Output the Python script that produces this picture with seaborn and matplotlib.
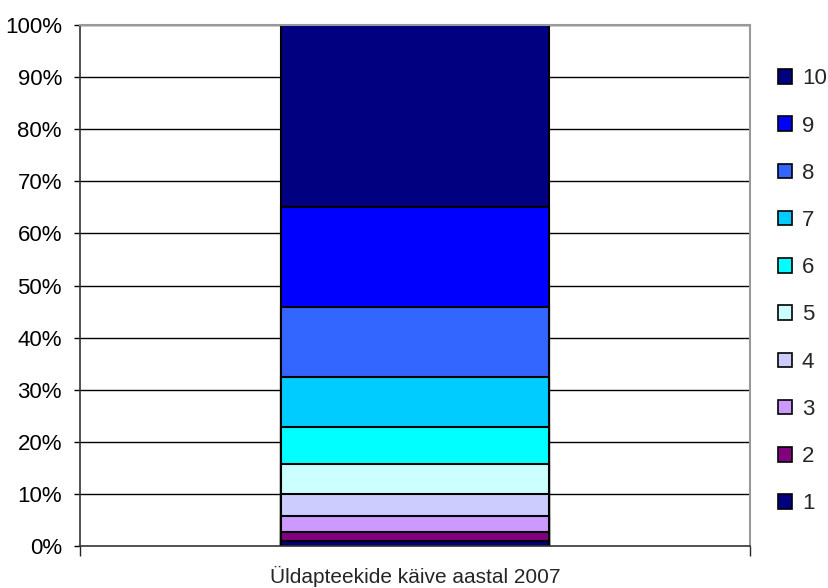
import pandas as pd
import matplotlib
matplotlib.use("Agg")
import matplotlib.pyplot as plt
import seaborn as sns
from matplotlib.patches import Patch
from matplotlib.ticker import PercentFormatter

# osakaalud (%) grupiti 1..10
grupid = ["1", "2", "3", "4", "5", "6", "7", "8", "9", "10"]
osakaalud = [1.0, 1.6, 3.1, 4.2, 5.8, 7.2, 9.6, 13.4, 19.2, 34.9]
varvid = ["#000080", "#800080", "#CC99FF", "#CCCCFF", "#CCFFFF",
          "#00FFFF", "#00CCFF", "#3366FF", "#0000FF", "#000080"]
kategooria = "Üldapteekide käive aastal 2007"

sns.set_theme(style="white")
plt.rcParams["font.family"] = ["Liberation Sans", "DejaVu Sans"]

df = pd.DataFrame({"grupp": grupid, "osakaal": osakaalud, "varv": varvid})
df["kumulatiivne"] = df["osakaal"].cumsum()
df["kumulatiivne"] = df["kumulatiivne"] / df["kumulatiivne"].iloc[-1] * 100
df["kategooria"] = kategooria

fig = plt.figure(figsize=(8.29, 5.88), dpi=100)
ax = fig.add_axes([0.0965, 0.0714, 0.8085, 0.8861])

# gridlines
for g in range(10, 101, 10):
    ax.axhline(g, color="black", linewidth=1, zorder=0)

# virnastatud tulp: suurimast kumulatiivsest väiksemani
for _, rida in df.iloc[::-1].iterrows():
    sns.barplot(data=rida.to_frame().T, x="kategooria", y="kumulatiivne",
                color=rida["varv"], edgecolor="black", linewidth=1.5,
                width=0.4, ax=ax, zorder=2, saturation=1)

ax.set_ylim(0, 100)
ax.set_xlim(-0.5, 0.5)
ax.set_yticks(range(0, 101, 10))
ax.yaxis.set_major_formatter(PercentFormatter(decimals=0))
ax.set_ylabel("")
ax.set_xlabel("")
ax.set_xticks([-0.5, 0.5], minor=False)
ax.set_xticklabels(["", ""])
ax.text(0.0, -0.039, kategooria, transform=ax.get_xaxis_transform(),
        ha="center", va="top", fontsize=15)

ax.tick_params(axis="y", labelsize=16, length=4, width=1, direction="out",
               left=True, pad=9, colors="black")
ax.tick_params(axis="x", length=7, width=1, direction="out", bottom=True)

for s in ["left", "bottom"]:
    ax.spines[s].set_color("#333333")
    ax.spines[s].set_linewidth(1.2)
for s in ["top", "right"]:
    ax.spines[s].set_color("#999999")
    ax.spines[s].set_linewidth(1.5)

kasitsejad = [Patch(facecolor=c, edgecolor="black", linewidth=1.2)
              for c in varvid[::-1]]
ax.legend(kasitsejad, grupid[::-1], loc="center left",
          bbox_to_anchor=(0.925, 0.5046), bbox_transform=fig.transFigure,
          frameon=False, fontsize=16, handlelength=0.63, handleheight=0.63,
          handletextpad=0.45, labelspacing=1.18, borderpad=0)

fig.savefig("out.png", dpi=100)
plt.close(fig)
